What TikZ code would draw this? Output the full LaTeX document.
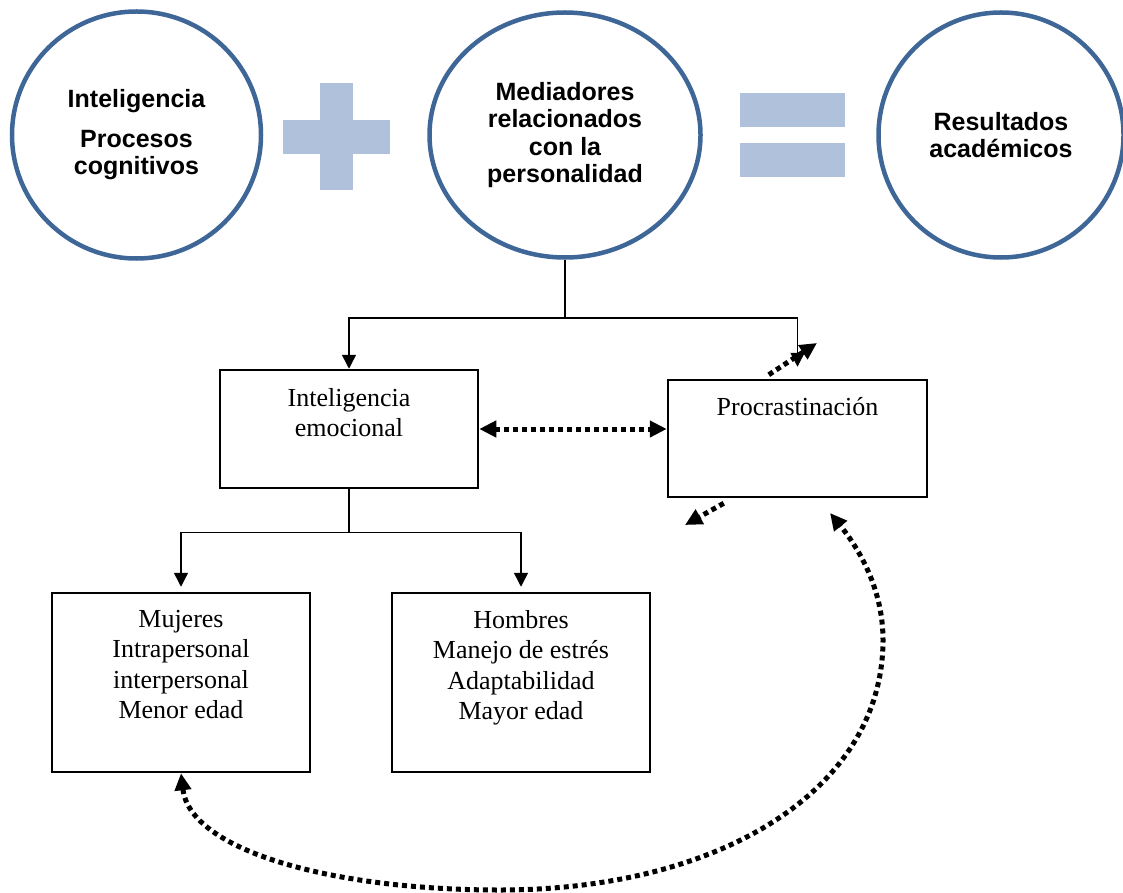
\documentclass[tikz,border=0pt]{standalone}
\usepackage{fontspec}
\setmainfont{Liberation Serif}
\newfontfamily\circfont{Liberation Sans}
\usetikzlibrary{arrows.meta,shapes.geometric,calc}
\definecolor{ringblue}{RGB}{62,103,152}
\definecolor{signblue}{RGB}{176,193,220}
\begin{document}
\begin{tikzpicture}[x=1pt,y=-1pt,
  ring/.style={ellipse, draw=ringblue, line width=4.5pt, inner sep=0pt, align=center,
    font=\circfont\bfseries\fontsize{25}{27.5}\selectfont},
  stepbox/.style={draw, line width=2.5pt, inner sep=0pt},
  boxtext/.style={anchor=north, align=center, inner sep=0pt, font=\fontsize{26}{30.5}\selectfont},
  conn/.style={line width=1.5pt, >={Triangle[length=14pt,width=14pt]}},
  dotconn/.style={line width=5pt, dash pattern=on 5pt off 4pt, >={Triangle[length=17pt,width=16pt]}},
  sign/.style={fill=signblue, draw=none}]
\useasboundingbox (0,0) rectangle (1123,893);

% top circles
\node[ring, minimum width=249pt, minimum height=247pt] (intel) at (136.5,135) {Inteligencia\\[12pt]Procesos\\cognitivos};
\node[ring, minimum width=271pt, minimum height=245pt] (med) at (565,135) {Mediadores\\relacionados\\con la\\personalidad};
\node[ring, minimum width=245pt, minimum height=245pt] (res) at (1001,135) {Resultados\\académicos};

% plus and equals signs
\fill[sign] (320,83) rectangle (353,190);
\fill[sign] (283,120) rectangle (390,154);
\fill[sign] (740,93) rectangle (845,127);
\fill[sign] (740,143) rectangle (845,177);

% boxes
\node[stepbox, minimum width=258pt, minimum height=118pt] (ie) at (349,429) {};
\node[boxtext] (iet) at (349,388) {Inteligencia\\emocional};
\node[stepbox, minimum width=259pt, minimum height=117pt] (pr) at (797.5,438.5) {};
\node[boxtext] (prt) at (797.5,397) {Procrastinación};
\node[stepbox, minimum width=258pt, minimum height=179pt] (muj) at (181,682.5) {};
\node[boxtext] (mujt) at (181,610) {Mujeres\\Intrapersonal\\interpersonal\\Menor edad};
\node[stepbox, minimum width=258pt, minimum height=179pt] (hom) at (521,682.5) {};
\node[boxtext] (homt) at (521,610) {Hombres\\Manejo de estrés\\Adaptabilidad\\Mayor edad};

% solid connectors
\coordinate (j1) at ($(med.south)+(0,58)$);
\draw[conn] (med.south) -- (j1);
\draw[conn,->] (j1) -| (ie.north);
\draw[conn,->,shorten >=12pt] (j1) -| (pr.north);
\coordinate (j2) at ($(ie.south)+(0,43)$);
\draw[conn] (ie.south) -- (j2);
\draw[conn,->,shorten >=5pt] (j2) -| (muj.north);
\draw[conn,->,shorten >=5pt] (j2) -| (hom.north);

% dotted connectors
\draw[dotconn,<->] (ie.east) -- (pr.west |- ie.east);
\coordinate (ta) at ($(pr.north west)+(102,-4)$);
\coordinate (tb) at (817,343);
\draw[dotconn,->] (ta) -- (tb);
\coordinate (ba) at ($(pr.south west)+(57,5)$);
\coordinate (bb) at (685,525);
\draw[dotconn,->] (ba) -- (bb);
\coordinate (ce) at (830,513);
\draw[dotconn,<->] (muj.south) .. controls (190,850) and (330,890) .. (500,890)
  .. controls (720,890) and (883,790) .. (883,640)
  .. controls (883,590) and (860,550) .. (ce);
\end{tikzpicture}
\end{document}
